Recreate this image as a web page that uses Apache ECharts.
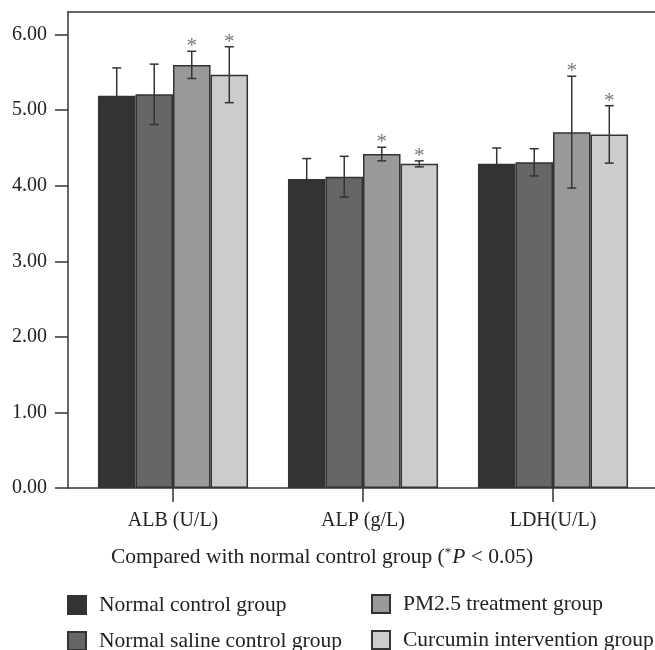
<!DOCTYPE html>
<html><head><meta charset="utf-8">
<script src="https://cdn.jsdelivr.net/npm/echarts@6/dist/echarts.min.js"></script>
<style>html,body{margin:0;padding:0;background:#fff}#c{width:655px;height:650px}</style>
</head><body><div id="c"></div>
<script>
const categories = ['ALB (U/L)', 'ALP (g/L)', 'LDH(U/L)'];
const groupNames = ['Normal control group', 'Normal saline control group', 'PM2.5 treatment group', 'Curcumin intervention group'];
const normalControl = [5.19, 4.09, 4.29];
const normalControlErr = [0.37, 0.27, 0.21];
const normalSaline = [5.21, 4.12, 4.31];
const normalSalineErr = [0.40, 0.27, 0.18];
const pm25 = [5.60, 4.42, 4.71];
const pm25Err = [0.18, 0.09, 0.74];
const curcumin = [5.47, 4.29, 4.68];
const curcuminErr = [0.37, 0.04, 0.38];
const pm25Star = [1, 1, 1];
const curcuminStar = [1, 1, 1];
const noStar = [0, 0, 0];
const yTicks = [0, 1, 2, 3, 4, 5, 6];

const FONT = 'Liberation Serif';
const colors = ['#323433', '#666666', '#999999', '#cccccc'];
const values = [normalControl, normalSaline, pm25, curcumin];
const errs = [normalControlErr, normalSalineErr, pm25Err, curcuminErr];
const stars = [noStar, noStar, pm25Star, curcuminStar];
const GAP = 0.21;

const series = [];
values.forEach((v, g) => {
  series.push({
    name: groupNames[g], type: 'bar', xAxisIndex: 2, yAxisIndex: 1,
    data: v, barGap: '0%', barCategoryGap: (GAP * 100) + '%',
    itemStyle: { color: colors[g], borderColor: '#333', borderWidth: 1.5 },
    emphasis: { disabled: true }, animation: false
  });
});
values.forEach((v, g) => {
  series.push({
    name: 'err' + g, type: 'custom', xAxisIndex: 2, yAxisIndex: 1, z: 5,
    data: v.map((val, i) => [i, val, errs[g][i], stars[g][i]]),
    animation: false, silent: true,
    renderItem: function (params, api) {
      const c = api.coord([api.value(0), api.value(1)]);
      const band = api.size([1, 0])[0];
      const bw = band * (1 - GAP) / 4;
      const x = c[0] + (g - 1.5) * bw;
      const top = api.coord([api.value(0), api.value(1) + api.value(2)])[1];
      const bot = api.coord([api.value(0), api.value(1) - api.value(2)])[1];
      const cap = 4.5;
      const ls = { stroke: '#333', lineWidth: 1.5 };
      const children = [
        { type: 'line', shape: { x1: x, y1: top, x2: x, y2: bot }, style: ls },
        { type: 'line', shape: { x1: x - cap, y1: top, x2: x + cap, y2: top }, style: ls },
        { type: 'line', shape: { x1: x - cap, y1: bot, x2: x + cap, y2: bot }, style: ls }
      ];
      if (api.value(3)) {
        children.push({ type: 'text', style: { text: '*', x: x, y: top - 15, textAlign: 'center', textVerticalAlign: 'top', font: '21px "' + FONT + '"', fill: '#777' } });
      }
      return { type: 'group', children: children };
    }
  });
});

const legendCommon = {
  orient: 'vertical', icon: 'rect', itemWidth: 18, itemHeight: 18, itemGap: 14,
  padding: 0, height: 120,
  selectedMode: false,
  textStyle: { fontFamily: FONT, fontSize: 21.5, lineHeight: 20, color: '#222', padding: [0, 0, 0, 8] }
};
const frameLine = { show: true, lineStyle: { color: '#333', width: 1.5 } };

const chart = echarts.init(document.getElementById('c'), null, { renderer: 'canvas' });
chart.setOption({
  animation: false,
  textStyle: { fontFamily: FONT },
  grid: [
    { left: 68, right: 0, top: 12, bottom: 162, containLabel: false, outerBoundsMode: 'none' },
    { left: 78, width: 570, top: 12, bottom: 162, containLabel: false, outerBoundsMode: 'none' }
  ],
  xAxis: [
    { gridIndex: 0, type: 'value', min: 0, max: 1, position: 'bottom', axisLine: frameLine,
      axisTick: { show: false }, axisLabel: { show: false }, splitLine: { show: false } },
    { gridIndex: 0, type: 'value', min: 0, max: 1, position: 'top', axisLine: frameLine,
      axisTick: { show: false }, axisLabel: { show: false }, splitLine: { show: false } },
    { gridIndex: 1, type: 'category', data: categories,
      axisLine: { show: false },
      axisTick: { show: true, alignWithLabel: true, length: 14, lineStyle: { color: '#333', width: 1.5 } },
      axisLabel: { margin: 23, fontFamily: FONT, fontSize: 20, color: '#222' } }
  ],
  yAxis: [
    { gridIndex: 0, type: 'value', min: 0, max: 6.3,
      axisLine: frameLine, splitLine: { show: false },
      axisTick: { show: true, length: 13, lineStyle: { color: '#333', width: 1.5 }, customValues: yTicks },
      axisLabel: { margin: 21, fontFamily: FONT, fontSize: 20, color: '#222', customValues: yTicks, formatter: v => v.toFixed(2) } },
    { gridIndex: 1, type: 'value', min: 0, max: 6.3, show: false }
  ],
  legend: [
    Object.assign({ left: 67, top: 594, data: [groupNames[0], groupNames[1]] }, legendCommon),
    Object.assign({ left: 371, top: 593, data: [groupNames[2], groupNames[3]] }, legendCommon)
  ],
  graphic: [{
    type: 'text', left: 111, top: 546,
    style: {
      text: 'Compared with normal control group ({sup|*}{it|P} < 0.05)',
      font: '21.5px "' + FONT + '"', fill: '#222',
      rich: {
        sup: { fontSize: 13, verticalAlign: 'top', padding: [0, 1, 8, 0], fontFamily: FONT, fill: '#222' },
        it: { fontStyle: 'italic', fontSize: 21.5, fontFamily: FONT, fill: '#222' }
      }
    }
  }],
  series: series
});
</script></body></html>
